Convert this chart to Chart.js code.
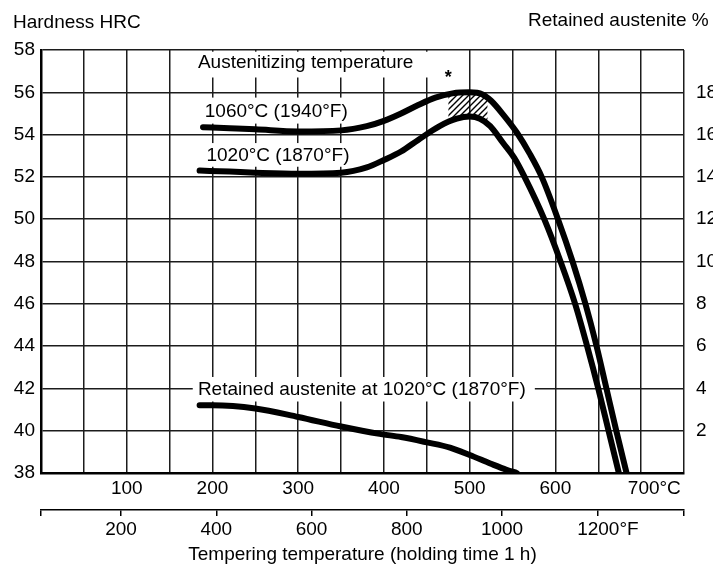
<!DOCTYPE html>
<html>
<head>
<meta charset="utf-8">
<script src="https://cdn.jsdelivr.net/npm/chart.js@4"></script>
<style>
  html, body { margin: 0; padding: 0; background: #fff; }
  #wrap { width: 713px; height: 569px; }
</style>
</head>
<body>
<div id="wrap"><canvas id="hardnessChart" width="713" height="569"></canvas></div>
<script>
// data (tempering temperature in °C)
const tempC1060 = [189, 220, 250, 300, 350, 380, 400, 420, 440, 460, 480, 500, 515, 525, 540, 555, 570, 584, 603, 620, 635, 648, 659.5, 671, 683];
const hrc1060   = [54.35, 54.3, 54.25, 54.15, 54.2, 54.4, 54.65, 55.0, 55.4, 55.75, 55.95, 56.0, 55.9, 55.6, 54.9, 54.1, 53.1, 52.0, 50.0, 48.0, 46.0, 44.0, 42.0, 40.0, 38.0];

const tempC1020 = [185, 220, 250, 300, 350, 380, 400, 420, 440, 465, 485, 500, 512, 524, 539, 552, 564, 587, 606, 623, 637, 650, 662, 674];
const hrc1020   = [52.3, 52.25, 52.2, 52.15, 52.2, 52.45, 52.8, 53.2, 53.75, 54.4, 54.75, 54.85, 54.75, 54.4, 53.6, 52.9, 52.0, 50.0, 48.0, 46.0, 44.0, 42.0, 40.0, 38.0];

const tempCRA = [185, 200, 250, 300, 350, 395, 420, 450, 477, 500, 524, 543, 555];
const raPct   = [3.2, 3.2, 3.05, 2.65, 2.2, 1.85, 1.7, 1.45, 1.2, 0.85, 0.45, 0.15, 0.0];

// hatched band at the peak (*)
const hatchC      = [475, 490, 505, 521];
const hatchTop    = [55.9, 56.0, 56.0, 55.8];
const hatchBottom = [54.6, 54.8, 54.85, 54.55];

// axes
const cLabels  = [100, 200, 300, 400, 500, 600, 700];
const fLabels  = [200, 400, 600, 800, 1000, 1200];
const hrcTicks = [38, 40, 42, 44, 46, 48, 50, 52, 54, 56, 58];
const raLabels = [2, 4, 6, 8, 10, 12, 14, 16, 18];

const notes = [
  { text: 'Austenitizing temperature', c: 183, hrc: 57.4, box: [177, 471, 57.92, 56.7] },
  { text: '1060°C (1940°F)', c: 191, hrc: 55.07, box: [185, 363, 55.75, 54.52] },
  { text: '1020°C (1870°F)', c: 193, hrc: 53.0, box: [185, 363, 53.6, 52.48] },
  { text: 'Retained austenite at 1020°C (1870°F)', c: 183, hrc: 41.92, box: [177, 576, 42.54, 41.38] }
];

const ink = '#000';
const family = "'Liberation Sans', Arial, sans-serif";
const font = { family: family, size: 19 };
const gridColor = '#1c1c1c';

const pts = (xs, ys) => xs.map((x, i) => ({ x: x, y: ys[i] }));

function hatch() {
  const c = document.createElement('canvas');
  c.width = 6; c.height = 6;
  const g = c.getContext('2d');
  g.strokeStyle = '#000';
  g.lineWidth = 1.4;
  g.beginPath();
  g.moveTo(0, 6); g.lineTo(6, 0);
  g.moveTo(-1, 1); g.lineTo(1, -1);
  g.moveTo(5, 7); g.lineTo(7, 5);
  g.stroke();
  return g.createPattern(c, 'repeat');
}

const curve = {
  borderColor: '#000',
  borderWidth: 6,
  borderCapStyle: 'round',
  pointRadius: 0,
  cubicInterpolationMode: 'monotone',
  fill: false,
  clip: 0
};

// labels with white boxes, drawn over the grid but under the curves
const notesPlugin = {
  id: 'notes',
  beforeDatasetsDraw(chart) {
    const { ctx, scales: { x, y } } = chart;
    ctx.save();
    ctx.font = '19px ' + family;
    ctx.textBaseline = 'middle';
    notes.forEach(n => {
      const x0 = x.getPixelForValue(n.box[0]), x1 = x.getPixelForValue(n.box[1]);
      const y0 = y.getPixelForValue(n.box[2]), y1 = y.getPixelForValue(n.box[3]);
      ctx.fillStyle = '#fff';
      ctx.fillRect(x0, y0, x1 - x0, y1 - y0);
      ctx.fillStyle = ink;
      ctx.fillText(n.text, x.getPixelForValue(n.c), y.getPixelForValue(n.hrc));
    });
    ctx.font = 'bold 18px ' + family;
    ctx.textAlign = 'center';
    ctx.textBaseline = 'alphabetic';
    ctx.fillText('*', x.getPixelForValue(475), y.getPixelForValue(56.9) + 10);
    ctx.restore();
  },
  afterDraw(chart) {
    const { ctx, chartArea } = chart;
    ctx.save();
    ctx.font = '19px ' + family;
    ctx.fillStyle = ink;
    ctx.textBaseline = 'middle';
    ctx.fillText('Hardness HRC', chartArea.left - 28, chartArea.top - 27);
    ctx.fillText('Retained austenite %', chartArea.right - 156, chartArea.top - 29);
    ctx.restore();
  }
};

new Chart(document.getElementById('hardnessChart'), {
  type: 'line',
  data: {
    datasets: [
      { ...curve, label: '1060°C (1940°F)', data: pts(tempC1060, hrc1060), yAxisID: 'y' },
      { ...curve, label: '1020°C (1870°F)', data: pts(tempC1020, hrc1020), yAxisID: 'y' },
      { ...curve, label: 'Retained austenite at 1020°C (1870°F)', data: pts(tempCRA, raPct), yAxisID: 'y2' },
      {
        label: 'hatch top', data: pts(hatchC, hatchTop), yAxisID: 'y',
        borderWidth: 0, pointRadius: 0, fill: '+1', backgroundColor: hatch(),
        cubicInterpolationMode: 'monotone'
      },
      {
        label: 'hatch bottom', data: pts(hatchC, hatchBottom), yAxisID: 'y',
        borderWidth: 0, pointRadius: 0, fill: false,
        cubicInterpolationMode: 'monotone'
      }
    ]
  },
  options: {
    responsive: false,
    animation: false,
    events: [],
    layout: { padding: { top: 50, left: 0, right: 0, bottom: 0 } },
    plugins: {
      legend: { display: false },
      tooltip: { enabled: false }
    },
    scales: {
      x: {
        type: 'linear',
        position: 'bottom',
        weight: 0,
        min: 0,
        max: 750,
        afterFit: s => { s.height = 37; },
        ticks: {
          stepSize: 50,
          autoSkip: false,
          maxRotation: 0,
          padding: 4,
          color: ink,
          font: font,
          callback: v => !cLabels.includes(v) ? '' : (v === 700 ? '     700°C' : String(v))
        },
        grid: { color: gridColor, lineWidth: 1.5, drawTicks: false },
        border: { color: '#000', width: 2.5 }
      },
      xF: {
        type: 'linear',
        position: 'bottom',
        weight: 1,
        min: 32,
        max: 1382,
        afterFit: s => { s.height = 59; },
        ticks: {
          stepSize: 200,
          autoSkip: false,
          maxRotation: 0,
          padding: 2,
          color: ink,
          font: font,
          callback: v => !fLabels.includes(v) ? '' : (v === 1200 ? '    1200°F' : String(v))
        },
        grid: { drawOnChartArea: false, drawTicks: true, tickLength: 6, color: '#000', lineWidth: 1.5 },
        border: { color: '#000', width: 1.5 },
        title: {
          display: true,
          text: 'Tempering temperature (holding time 1 h)',
          color: ink,
          font: font,
          padding: { top: 0, bottom: 3 }
        }
      },
      y: {
        position: 'left',
        min: 38,
        max: 58,
        afterFit: s => { s.width = 41; },
        ticks: {
          stepSize: 2,
          padding: 6,
          color: ink,
          font: font,
          callback: v => hrcTicks.includes(v) ? String(v) : ''
        },
        grid: { color: gridColor, lineWidth: 1.5, drawTicks: false },
        border: { color: '#000', width: 2.5 }
      },
      y2: {
        position: 'right',
        min: 0,
        max: 20,
        afterFit: s => { s.width = 29; },
        ticks: {
          stepSize: 2,
          padding: 12,
          color: ink,
          font: font,
          callback: v => raLabels.includes(v) ? String(v) : ''
        },
        grid: { drawOnChartArea: false, drawTicks: false },
        border: { display: false }
      }
    }
  },
  plugins: [notesPlugin]
});
</script>
</body>
</html>
